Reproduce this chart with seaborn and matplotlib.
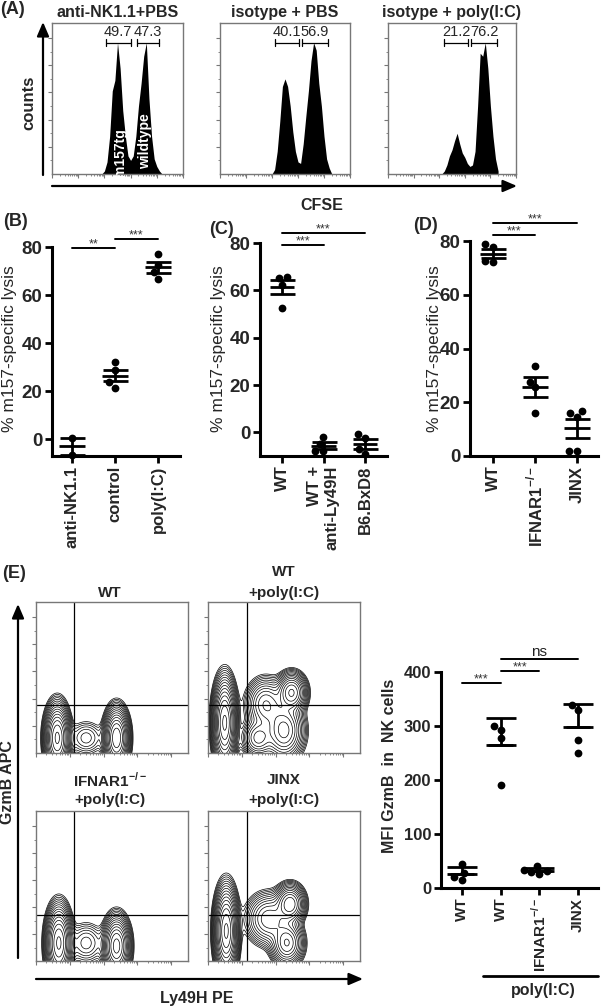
import numpy as np
import pandas as pd
import matplotlib
matplotlib.use("Agg")
import matplotlib.pyplot as plt
import seaborn as sns

sns.set_theme(style="white")
plt.rcParams['font.family'] = ['Liberation Sans', 'DejaVu Sans']
plt.rcParams['font.weight'] = 'bold'
plt.rcParams['mathtext.fontset'] = 'custom'
plt.rcParams['mathtext.rm'] = 'Liberation Sans:bold'
plt.rcParams['mathtext.bf'] = 'Liberation Sans:bold'

# ---------------- DATA ----------------
# (A) CFSE histograms (x in log10 decades, heights relative to box)
cfse_decade = [1.9, 2.0, 2.1, 2.2, 2.3, 2.4, 2.5, 2.6, 2.7, 2.8, 2.9, 3.0, 3.1,
               3.2, 3.3, 3.4, 3.5, 3.6, 3.7, 3.8, 3.9, 4.0, 4.1, 4.2, 4.3]
hist_anti_nk11_pbs = [0.0, 0.02, 0.08, 0.25, 0.55, 0.62, 0.87, 0.70, 0.42, 0.25, 0.12, 0.09, 0.12,
                      0.25, 0.45, 0.60, 0.78, 0.87, 0.50, 0.25, 0.10, 0.05, 0.02, 0.0, 0.0]
hist_isotype_pbs = [0.0, 0.0, 0.03, 0.15, 0.35, 0.58, 0.63, 0.58, 0.45, 0.28, 0.15, 0.08, 0.07,
                    0.20, 0.38, 0.55, 0.75, 0.87, 0.82, 0.60, 0.45, 0.25, 0.10, 0.04, 0.0]
hist_isotype_polyic = [0.0, 0.0, 0.0, 0.02, 0.06, 0.12, 0.16, 0.22, 0.27, 0.20, 0.14, 0.11, 0.07,
                       0.05, 0.06, 0.15, 0.45, 0.80, 0.78, 0.87, 0.70, 0.45, 0.25, 0.10, 0.02]
titles_A = ["anti-NK1.1+PBS", "isotype + PBS", "isotype + poly(I:C)"]
gate_pcts_A = [["49.7", "47.3"], ["40.1", "56.9"], ["21.2", "76.2"]]
gate_ranges_A = [[(2.06, 3.0), (3.25, 4.1)], [(2.12, 3.04), (3.15, 4.15)], [(2.19, 3.13), (3.24, 4.26)]]

# (B)
b_labels = ["anti-NK1.1", "control", "poly(I:C)"]
b_anti_nk11 = [0.6, -6.4]
b_control = [32.3, 28.6, 23.6, 21.5]
b_polyic = [77.1, 72.7, 69.6, 66.8]
# (C)
c_labels = ["WT", "WT +\nanti-Ly49H", "B6.BxD8"]
c_wt = [65.3, 65.8, 62.3, 52.5]
c_wt_anti_ly49h = [-1.8, -5.0, -7.9, -7.9]
c_b6bxd8 = [-0.8, -2.2, -7.2, -9.3]
# (D)
d_labels = ["WT", r"IFNAR1$^{-/-}$", "JINX"]
d_wt = [78.7, 77.9, 72.1, 72.5]
d_ifnar1 = [33.6, 27.7, 25.5, 15.9]
d_jinx = [16.0, 16.8, 14.6, 1.9, 1.9]
# (E) right: MFI GzmB in NK cells
e_labels = ["WT", "WT", r"IFNAR1$^{-/-}$", "JINX"]
e_wt = [44, 28, 14, 20]
e_wt_polyic = [292, 300, 277, 191]
e_ifnar1_polyic = [40, 34, 31, 26, 29]
e_jinx_polyic = [339, 330, 274, 250]
# significance annotations: (from, to, height, text)
sig_B = [(0, 1, 79.7, "**"), (1, 2, 83.4, "***")]
sig_C = [(0, 1, 79.2, "***"), (0, 2, 84.2, "***")]
sig_D = [(0, 1, 82.1, "***"), (0, 2, 86.6, "***")]
sig_E = [(0, 1, 380, "***"), (1, 2, 402, "***"), (1, 3, 424, "ns")]

# (E) left: flow populations (centre x, centre y, sd x, sd y, weight) in plot fractions
pops_wt = [(0.14, 0.10, 0.037, 0.10, 1.0), (0.53, 0.10, 0.037, 0.09, 0.9), (0.33, 0.10, 0.06, 0.06, 0.06)]
pops_wt_polyic = [(0.11, 0.20, 0.035, 0.13, 1.0), (0.55, 0.40, 0.045, 0.06, 0.55),
                  (0.38, 0.32, 0.06, 0.08, 0.30), (0.50, 0.15, 0.06, 0.09, 0.45), (0.33, 0.10, 0.05, 0.06, 0.25)]
pops_ifnar1_polyic = [(0.15, 0.12, 0.038, 0.11, 1.0), (0.53, 0.10, 0.04, 0.09, 0.8), (0.33, 0.12, 0.06, 0.07, 0.08)]
pops_jinx_polyic = [(0.12, 0.20, 0.035, 0.13, 1.0), (0.54, 0.38, 0.045, 0.06, 0.5),
                    (0.40, 0.28, 0.07, 0.08, 0.28), (0.52, 0.12, 0.05, 0.07, 0.4)]

# ---------------- LAYOUT ----------------
W, H = 601, 1007
fig = plt.figure(figsize=(W / 100, H / 100), dpi=100)


def px_axes(x0, y0, x1, y1):
    return fig.add_axes([x0 / W, 1 - y1 / H, (x1 - x0) / W, (y1 - y0) / H])


GREY = "#777777"


def flow_box(ax, n_dec=5.0):
    for s in ax.spines.values():
        s.set_color(GREY)
        s.set_linewidth(1.0)
    maj = [d for d in range(int(n_dec) + 1)]
    minr = [d + np.log10(k) for d in range(int(n_dec)) for k in range(2, 10)]
    ax.set_xticks([m / n_dec for m in maj])
    ax.set_xticks([m / n_dec for m in minr], minor=True)
    ax.set_yticks([0.18, 0.36, 0.54, 0.72, 0.9])
    ax.set_yticks([0.09, 0.27, 0.45, 0.63, 0.81], minor=True)
    ax.tick_params(which='major', direction='out', length=3, width=0.8, color=GREY,
                   labelleft=False, labelbottom=False, left=True, bottom=True)
    ax.tick_params(which='minor', direction='out', length=1.6, width=0.6, color=GREY,
                   left=True, bottom=True)
    ax.set_xlabel("")
    ax.set_ylabel("")


# ---- Panel A ----
A_boxes = [(52, 23, 183, 174), (220, 23, 350, 174), (388, 23, 516, 174)]
A_hists = [hist_anti_nk11_pbs, hist_isotype_pbs, hist_isotype_polyic]
for k, (box, counts) in enumerate(zip(A_boxes, A_hists)):
    ax = px_axes(*box)
    sns.histplot(x=cfse_decade, weights=counts, binwidth=0.1, binrange=(1.85, 4.35),
                 element="poly", fill=True, color="black", alpha=1, linewidth=0, ax=ax)
    ax.set_xlim(0, 5)
    ax.set_ylim(0, 1)
    flow_box(ax)
    ax.set_xticks(range(6))
    ax.set_xticks([d + np.log10(m) for d in range(5) for m in range(2, 10)], minor=True)
    for (a, b), pct in zip(gate_ranges_A[k], gate_pcts_A[k]):
        yb = 0.87
        ax.plot([a, b], [yb, yb], color="black", lw=0.9, clip_on=False)
        ax.plot([a, a], [yb - 0.025, yb + 0.025], color="black", lw=0.9, clip_on=False)
        ax.plot([b, b], [yb - 0.025, yb + 0.025], color="black", lw=0.9, clip_on=False)
        ax.text((a + b) / 2, yb + 0.025, pct, ha="center", va="bottom", fontsize=10.5,
                fontweight="normal")
    ax.set_title(titles_A[k], fontsize=11.5, fontweight="bold", pad=4)
    if k == 0:
        ax.text(2.6, 0.145, "m157tg", rotation=90, color="white", fontsize=10,
                fontweight="bold", ha="center", va="center")
        ax.text(3.55, 0.22, "wildtype", rotation=90, color="white", fontsize=10,
                fontweight="bold", ha="center", va="center")


# ---- dot panels ----
def dot_panel(box, labels, values, ylim, yticks, xlim, err, sig, tick_fs, xlab_fs,
              mean_hw=0.3, capsize=9, dot=5.6):
    ax = px_axes(*box)
    df = pd.DataFrame({"group": np.repeat(np.arange(len(values)), [len(v) for v in values]),
                       "value": np.concatenate([np.asarray(v, float) for v in values])})
    sns.swarmplot(data=df, x="group", y="value", color="black", size=dot, ax=ax, zorder=3)
    for c in ax.collections:
        c.set_clip_on(False)
    for i, v in enumerate(values):
        v = np.asarray(v, float)
        m = v.mean()
        ax.plot([i - mean_hw, i + mean_hw], [m, m], color="black", lw=2,
                solid_capstyle="butt", zorder=4, clip_on=False)
        if err == "sd":
            e = v.std(ddof=1)
            yerr = [[0], [e]]
        else:
            e = v.std(ddof=1) / np.sqrt(len(v))
            yerr = e
        ax.errorbar(i, m, yerr=yerr, fmt="none", ecolor="black", elinewidth=2,
                    capsize=capsize, capthick=2, zorder=4, clip_on=False)
    ax.set_xlim(*xlim)
    ax.set_ylim(*ylim)
    ax.set_yticks(yticks)
    ax.set_yticklabels([str(t) for t in yticks], fontweight="bold", fontsize=tick_fs)
    ax.set_xticks(range(len(labels)))
    ax.set_xticklabels(labels, rotation=90, fontweight="bold", fontsize=xlab_fs,
                       multialignment="right")
    ax.set_xlabel("")
    ax.set_ylabel("")
    for s in ["top", "right"]:
        ax.spines[s].set_visible(False)
    for s in ["left", "bottom"]:
        ax.spines[s].set_linewidth(2.2)
        ax.spines[s].set_color("black")
    ax.tick_params(axis="both", direction="out", length=5, width=2, color="black",
                   left=True, bottom=True, pad=2)
    for (i, j, yv, txt) in sig:
        ax.plot([i, j], [yv, yv], color="black", lw=1.4, clip_on=False)
        if txt == "ns":
            ax.text((i + j) / 2, yv, txt, ha="center", va="bottom", fontsize=11,
                    color="#222222", fontweight="normal")
        else:
            ax.text((i + j) / 2, yv - (ylim[1] - ylim[0]) * 0.012, txt, ha="center", va="bottom",
                    fontsize=9, color="#333333", fontweight="normal")
    return ax


dot_panel((52, 247, 180, 456), b_labels, [b_anti_nk11, b_control, b_polyic],
          (-7, 80), [0, 20, 40, 60, 80], (-0.465, 2.51), "sem", sig_B, 13.5, 12)
dot_panel((260, 243, 387, 456), c_labels, [c_wt, c_wt_anti_ly49h, c_b6bxd8],
          (-10, 80), [0, 20, 40, 60, 80], (-0.53, 2.53), "sem", sig_C, 13.5, 12)
dot_panel((470, 241, 598, 456), d_labels, [d_wt, d_ifnar1, d_jinx],
          (0, 80), [0, 20, 40, 60, 80], (-0.55, 2.5), "sem", sig_D, 13.5, 12)
dot_panel((441, 672, 598, 888), e_labels, [e_wt, e_wt_polyic, e_ifnar1_polyic, e_jinx_polyic],
          (0, 400), [0, 100, 200, 300, 400], (-0.54, 3.52), "sd", sig_E, 12, 11,
          mean_hw=0.32, capsize=11)

# ---- Panel E contour plots ----
E_boxes = [(36, 602, 188, 753), (208, 602, 360, 753), (36, 811, 188, 961), (208, 811, 360, 961)]
E_pops = [pops_wt, pops_wt_polyic, pops_ifnar1_polyic, pops_jinx_polyic]
E_gates = [(0.25, 0.32), (0.257, 0.32), (0.25, 0.31), (0.257, 0.31)]
gx, gy = np.meshgrid(np.linspace(0, 1, 300), np.linspace(0, 1, 300))
for box, pops, (vx, hy) in zip(E_boxes, E_pops, E_gates):
    ax = px_axes(*box)
    z = np.zeros_like(gx)
    for (cx, cy, sx, sy, w) in pops:
        z += w * np.exp(-0.5 * ((gx - cx) / sx) ** 2 - 0.5 * ((gy - cy) / sy) ** 2)
    levels = z.max() * np.geomspace(0.012, 0.93, 16)
    ax.contour(gx, gy, z, levels=levels, colors="black", linewidths=0.5)
    ax.axvline(vx, color="black", lw=0.9)
    ax.axhline(hy, color="black", lw=0.9)
    ax.set_xlim(0, 1)
    ax.set_ylim(0, 1)
    flow_box(ax, n_dec=4.5)

# ---------------- overlay text / arrows ----------------
ov = fig.add_axes([0, 0, 1, 1], zorder=10)
ov.set_xlim(0, W)
ov.set_ylim(H, 0)
ov.axis("off")


def arrow(x0, y0, x1, y1):
    ov.annotate("", xy=(x1, y1), xytext=(x0, y0),
                arrowprops=dict(arrowstyle="-|>,head_length=0.7,head_width=0.3", lw=1.6,
                                color="black", shrinkA=0, shrinkB=0))


BF = dict(fontweight="bold", ha="center", va="center")
# Panel A
ov.text(0, 10, "(A)", fontsize=13, fontweight="bold", ha="left", va="center")
arrow(43, 175, 43, 22)
ov.text(29, 103, "counts", rotation=90, fontsize=12, **BF)
arrow(52, 186, 517, 186)
ov.text(322, 205, "CFSE", fontsize=11.5, **BF)
# Panels B-D
ov.text(15, 222, "(B)", fontsize=13, **BF)
ov.text(221, 229, "(C)", fontsize=13, **BF)
ov.text(426, 226, "(D)", fontsize=13, **BF)
for xl in (10, 218, 434):
    ov.text(xl, 349, "% m157-specific lysis", rotation=90, fontsize=12.5, ha="center",
            va="center", fontweight="normal")
# Panel E
ov.text(2, 574, "(E)", fontsize=13, fontweight="bold", ha="left", va="center")
ov.text(110, 593, "WT", fontsize=11, **BF)
ov.text(284, 572, "WT", fontsize=11, **BF)
ov.text(284, 593, "+poly(I:C)", fontsize=11, **BF)
ov.text(110, 780, r"IFNAR1$^{-/-}$", fontsize=11, **BF)
ov.text(110, 800, "+poly(I:C)", fontsize=11, **BF)
ov.text(284, 780, "JINX", fontsize=11, **BF)
ov.text(284, 800, "+poly(I:C)", fontsize=11, **BF)
arrow(18, 958, 18, 604)
ov.text(8, 782, "GzmB APC", rotation=90, fontsize=11.5, **BF)
arrow(36, 979, 363, 979)
ov.text(197, 998, "Ly49H PE", fontsize=11.5, **BF)
ov.text(390, 766, "MFI GzmB  in  NK cells", rotation=90, fontsize=11.5, **BF)
ov.plot([483, 598], [976, 976], color="black", lw=2)
ov.text(543, 990, "poly(I:C)", fontsize=11.5, **BF)

fig.savefig("out.png", dpi=100)
